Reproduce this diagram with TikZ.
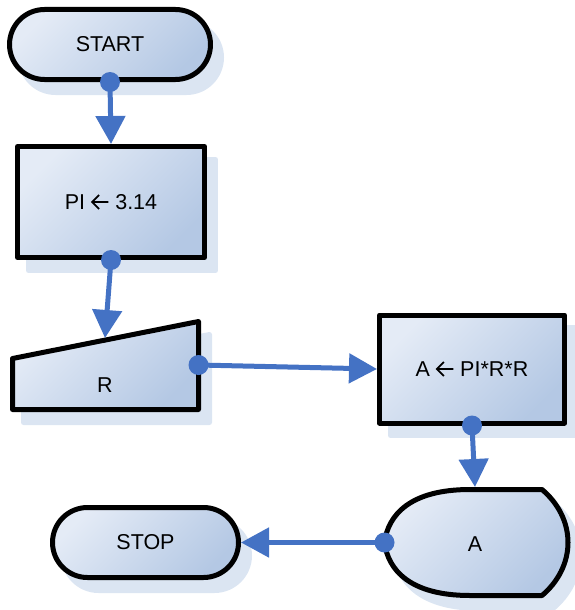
\documentclass[tikz,border=0pt]{standalone}
\usepackage{fontspec}
\setmainfont{Liberation Sans}
\usetikzlibrary{arrows.meta}
\definecolor{lt}{RGB}{228,235,246}
\definecolor{dk}{RGB}{180,200,228}
\definecolor{shd}{RGB}{219,229,242}
\definecolor{conncol}{RGB}{68,114,196}
\newcommand{\larr}{\tikz[baseline=0pt]{\draw[line width=1.8pt, line cap=butt, line join=miter] (0.6pt,7.6pt) -- (17pt,7.6pt) (7.6pt,14.6pt) -- (0.6pt,7.6pt) -- (7.6pt,0.6pt);}}
\tikzset{
  shapefill/.style={draw=black, line width=5pt, top color=lt, bottom color=dk, shading angle=45, line join=round},
  shadowfill/.style={fill=shd, draw=shd, line width=5pt, line join=round},
  lbl/.style={font=\fontsize{21.5}{25}\selectfont, text=black, inner sep=0pt},
  conn/.style={draw=conncol, line width=5pt, -{Triangle[length=28pt,width=29pt]}},
  dot/.style={fill=conncol}
}
\begin{document}
\begin{tikzpicture}[x=1pt,y=-1pt]
\useasboundingbox (0,0) rectangle (574,610);
% shadows
\begin{scope}[shift={(11,13)}]
  \path[shadowfill, rounded corners=35pt] (9.5,9.5) rectangle (210.5,79.5);
  \path[shadowfill] (17.5,146.5) rectangle (204.5,257.5);
  \path[shadowfill] (12.5,358.5) -- (198.5,321.5) -- (198.5,409.5) -- (12.5,409.5) -- cycle;
  \path[shadowfill] (379.5,314.5) rectangle (564.5,422.5);
  \path[shadowfill] (470,489.5) -- (542,489.5) .. controls (558,503) and (568,522) .. (568,542.5)
     .. controls (568,563) and (558,582) .. (542,595.5) -- (470,595.5)
     .. controls (410,595.5) and (388,570) .. (384.5,542.5)
     .. controls (388,515) and (410,489.5) .. (470,489.5) -- cycle;
  \path[shadowfill, rounded corners=35pt] (52.5,507.5) rectangle (238.5,577.5);
\end{scope}
% shapes
\node[shapefill, lbl, rounded corners=35pt, minimum width=201pt, minimum height=70pt] (start) at (110,44.5) {START};
\node[shapefill, lbl, minimum width=187pt, minimum height=111pt] (pi) at (111,202) {PI \larr{} 3.14};
\path[shapefill] (12.5,358.5) -- (198.5,321.5) -- (198.5,409.5) -- (12.5,409.5) -- cycle;
\node[lbl] (r) at (105,385) {R};
\coordinate (rtop) at (105,338);
\coordinate (rright) at (198.5,365);
\node[shapefill, lbl, minimum width=185pt, minimum height=108pt] (aeq) at (472,369) {A \larr{} PI*R*R};
\path[shapefill] (470,489.5) -- (542,489.5) .. controls (558,503) and (568,522) .. (568,542.5)
     .. controls (568,563) and (558,582) .. (542,595.5) -- (470,595.5)
     .. controls (410,595.5) and (388,570) .. (384.5,542.5)
     .. controls (388,515) and (410,489.5) .. (470,489.5) -- cycle;
\node[lbl] (a) at (475,544) {A};
\coordinate (atop) at (475,487);
\coordinate (aleft) at (384.5,542.5);
\node[shapefill, lbl, rounded corners=35pt, minimum width=186pt, minimum height=70pt] (stop) at (145.5,542.5) {STOP};
% connectors
\draw[conn] (start.south) -- (pi.north);
\draw[conn] (pi.south) -- (rtop);
\draw[conn] (rright) -- (aeq.west);
\draw[conn] (aeq.south) -- (atop);
\draw[conn] (aleft) -- (stop.east);
\fill[dot] (start.south) circle (10pt);
\fill[dot] (pi.south) circle (10pt);
\fill[dot] (rright) circle (10pt);
\fill[dot] (aeq.south) circle (10pt);
\fill[dot] (aleft) circle (10pt);
\end{tikzpicture}
\end{document}
